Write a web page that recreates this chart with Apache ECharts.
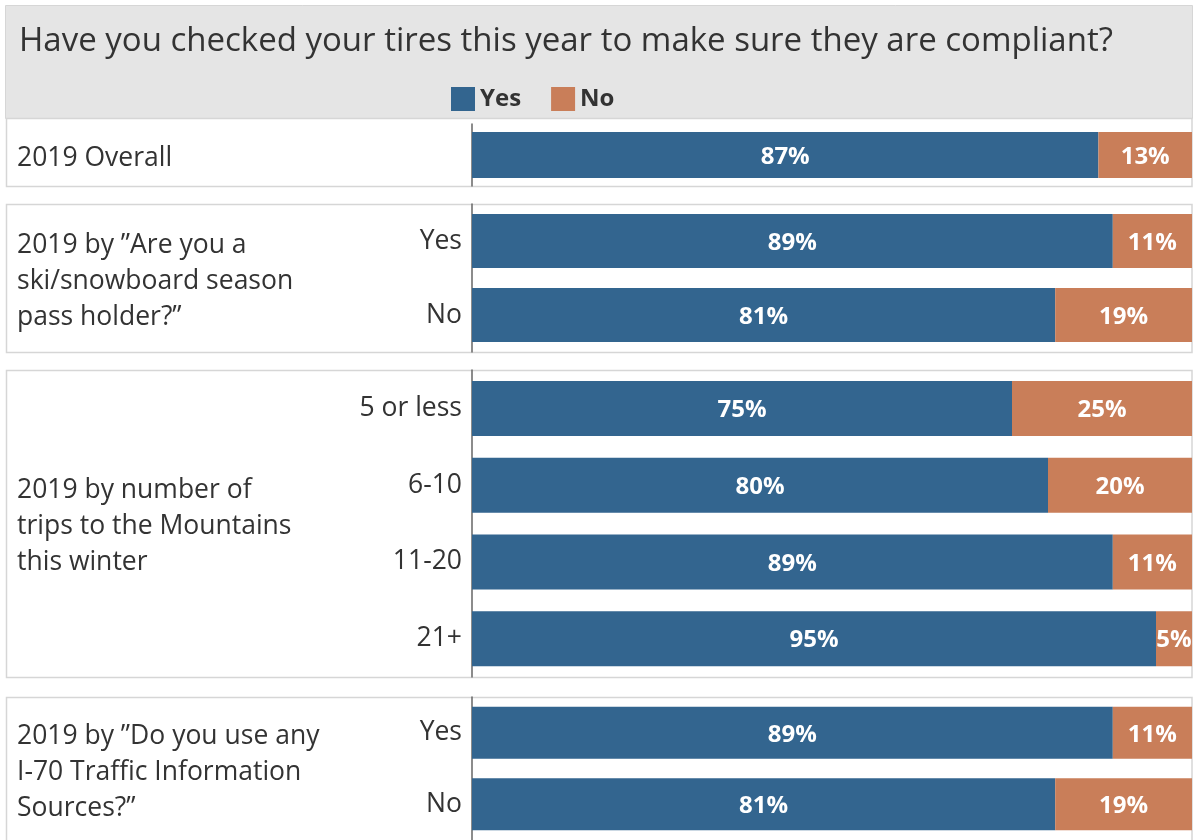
<!DOCTYPE html>
<html>
<head>
<meta charset="utf-8">
<script src="https://cdn.jsdelivr.net/npm/echarts@6/dist/echarts.min.js"></script>
<style>
  html, body { margin: 0; padding: 0; background: #ffffff; }
  #chart { width: 1193px; height: 840px; }
</style>
</head>
<body>
<div id="chart"></div>
<script>
// Survey question and answer groups
const chartTitle = 'Have you checked your tires this year to make sure they are compliant?';
const seriesNames = ['Yes', 'No'];
const groupLabels = [
  '2019 Overall',
  '2019 by \u201dAre you a\nski/snowboard season\npass holder?\u201d',
  '2019 by number of\ntrips to the Mountains\nthis winter',
  '2019 by \u201dDo you use any\nI-70 Traffic Information\nSources?\u201d'
];
const groupCategories = [
  [''],
  ['Yes', 'No'],
  ['5 or less', '6-10', '11-20', '21+'],
  ['Yes', 'No']
];
// Share of respondents (%) answering Yes / No in each group
const yesValues = [
  [87],
  [89, 81],
  [75, 80, 89, 95],
  [89, 81]
];
const noValues = [
  [13],
  [11, 19],
  [25, 20, 11, 5],
  [11, 19]
];

const FONT = '"Open Sans"';
const TEXT = '#333333';
const BLUE = '#33658f';
const ORANGE = '#c97e59';
const FRAME = '#d6d6d6';

// Panel geometry (pixel layout of each boxed group)
const panels = [
  { top: 118, bottom: 186, axisTop: 124, barWidth: 46, labelY: 158 },
  { top: 204, bottom: 352, axisTop: 204, barWidth: 54, labelY: 281 },
  { top: 370, bottom: 677, axisTop: 370, barWidth: 55, labelY: 526 },
  { top: 697, bottom: 841, axisTop: 697, barWidth: 52, labelY: 772 }
];
const axisX = 472;
const rightEdge = 1192;

const grids = [], xAxes = [], yAxes = [], series = [], graphics = [];

graphics.push({
  type: 'rect', z: -1,
  shape: { x: 5.5, y: 5.5, width: rightEdge - 5, height: 113 },
  style: { fill: '#e5e5e5', stroke: FRAME, lineWidth: 1 }
});

panels.forEach((p, i) => {
  graphics.push({
    type: 'rect', z: -1,
    shape: { x: 6.5, y: p.top + 0.5, width: rightEdge - 6.5, height: p.bottom - p.top },
    style: { fill: '#ffffff', stroke: FRAME, lineWidth: 1.5 }
  });
  graphics.push({
    type: 'text', z: 5,
    left: 17, top: p.labelY - (groupLabels[i].split('\n').length * 36) / 2,
    style: {
      text: groupLabels[i],
      font: '26.5px ' + FONT,
      fill: TEXT,
      lineHeight: 36
    }
  });

  grids.push({
    left: axisX, top: p.axisTop,
    width: rightEdge - axisX, height: p.bottom - p.axisTop
  });
  xAxes.push({
    gridIndex: i, type: 'value', min: 0, max: 100, show: false
  });
  yAxes.push({
    gridIndex: i, type: 'category', inverse: true,
    data: groupCategories[i],
    axisLine: { show: true, lineStyle: { color: '#666666', width: 1.5 } },
    axisTick: { show: false },
    splitLine: { show: false },
    axisLabel: {
      color: TEXT, fontSize: 26.5, fontFamily: FONT, margin: 10,
      padding: [5, 0, 0, 0]
    }
  });
  [yesValues[i], noValues[i]].forEach((vals, k) => {
    series.push({
      name: seriesNames[k],
      type: 'bar',
      stack: 'g' + i,
      xAxisIndex: i, yAxisIndex: i,
      barWidth: p.barWidth,
      data: vals,
      itemStyle: { color: k === 0 ? BLUE : ORANGE },
      label: {
        show: true, position: 'inside',
        formatter: '{c}%', offset: [0, 2],
        color: '#ffffff', fontSize: 24, fontWeight: 'bold', fontFamily: FONT
      },
      emphasis: { disabled: true },
      animation: false
    });
  });
});

const chart = echarts.init(document.getElementById('chart'));
chart.setOption({
  backgroundColor: '#ffffff',
  animation: false,
  title: {
    text: chartTitle, left: 14, top: 20,
    textStyle: { color: TEXT, fontSize: 33, fontWeight: 'normal', fontFamily: FONT }
  },
  legend: {
    data: seriesNames, left: 446, top: 82,
    icon: 'rect', itemWidth: 24, itemHeight: 24, itemGap: 30, itemTextGap: 9,
    selectedMode: false,
    textStyle: { color: TEXT, fontSize: 24, fontWeight: 'bold', fontFamily: FONT }
  },
  grid: grids,
  xAxis: xAxes,
  yAxis: yAxes,
  series: series,
  graphic: graphics
});
</script>
</body>
</html>
